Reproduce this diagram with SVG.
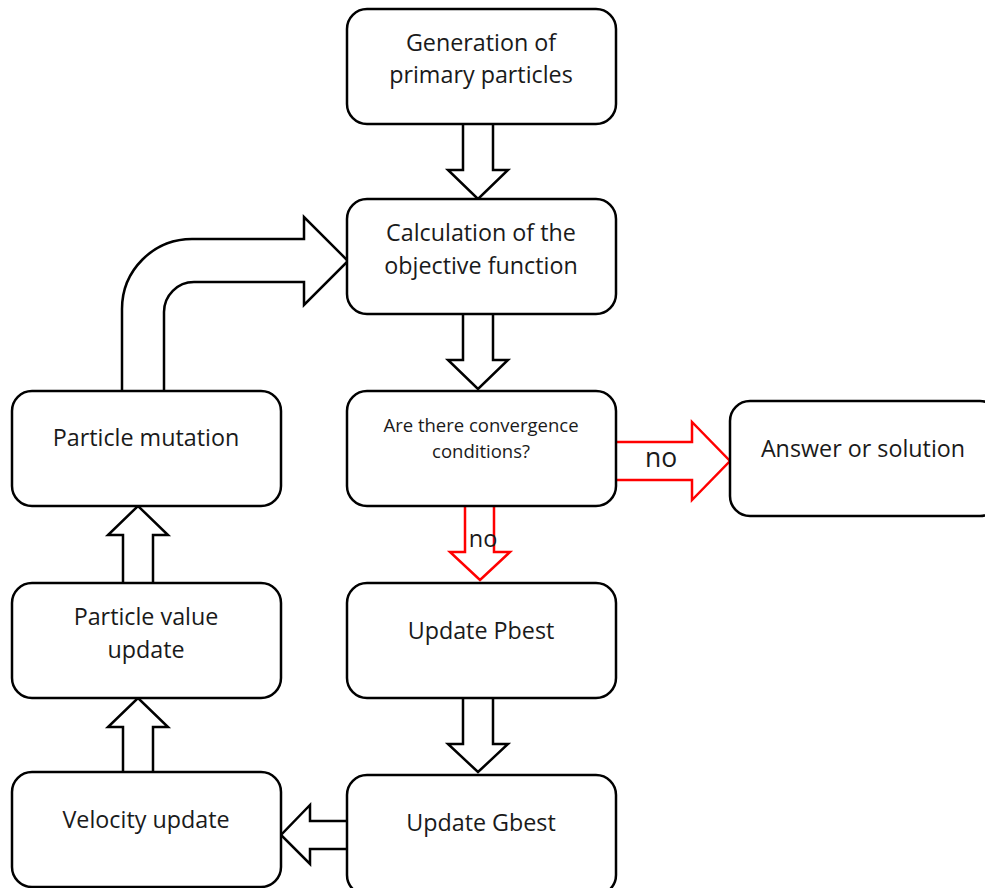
<svg xmlns="http://www.w3.org/2000/svg" width="985" height="888" viewBox="0 0 985 888">
<style>
.box{fill:#fff;stroke:#000;stroke-width:2.5}
.arr{fill:#fff;stroke:#000;stroke-width:2.5;stroke-linejoin:miter}
.red{fill:#fff;stroke:#ff0000;stroke-width:2.5;stroke-linejoin:miter}
text{font-family:"Open Sans","DejaVu Sans",sans-serif;font-size:23.3px;fill:#1a1a1a;text-anchor:middle}
.sm{font-size:18.5px}
.no{font-size:26.5px}
.no2{font-size:23.5px}
</style>
<rect width="985" height="888" fill="#fff"/>
<g id="connectors">
<path class="arr" d="M463,124 V170 H448 L478,199 L508,170 H493 V124"/>
<path class="arr" d="M463,314 V360 H448 L478,389 L508,360 H493 V314"/>
<path class="arr" d="M463,698 V744 H448 L478,772 L508,744 H493 V698"/>
<path class="arr" d="M348,821 H310 V805 L281,835 L310,864 V849 H348"/>
<path class="arr" d="M123,772 V727 H108 L138,698 L168,727 H153 V772"/>
<path class="arr" d="M123,583 V535 H108 L138,506 L168,535 H153 V583"/>
<path class="arr" d="M122,391 V309 A70,70 0 0 1 192,239 H304 V217 L348,261 L304,305 V282 H194 A30,30 0 0 0 164,312 V391"/>
<path class="red" d="M465,506 V552 H450 L480,580 L510,552 H494 V506"/>
<path class="red" d="M616,442 H692 V422 L730,461 L692,500 V480 H616"/>
<text class="no" x="661" y="467">no</text>
<text class="no2" x="483" y="547">no</text>
</g>
<g id="n1"><rect class="box" x="347" y="9" width="269" height="115" rx="20"/><text x="481" y="51">Generation of</text><text x="481" y="83">primary particles</text></g>
<g id="n2"><rect class="box" x="347" y="199" width="269" height="115" rx="20"/><text x="481" y="241">Calculation of the</text><text x="481" y="274">objective function</text></g>
<g id="n3"><rect class="box" x="347" y="391" width="269" height="115" rx="20"/><text class="sm" x="481" y="432">Are there convergence</text><text class="sm" x="481" y="458">conditions?</text></g>
<g id="n4"><rect class="box" x="730" y="401" width="270" height="115" rx="20"/><text x="863" y="457">Answer or solution</text></g>
<g id="n5"><rect class="box" x="347" y="583" width="269" height="115" rx="20"/><text x="481" y="639">Update Pbest</text></g>
<g id="n6"><rect class="box" x="347" y="775" width="269" height="120" rx="20"/><text x="481" y="831">Update Gbest</text></g>
<g id="n7"><rect class="box" x="12" y="391" width="269" height="115" rx="20"/><text x="146" y="446">Particle mutation</text></g>
<g id="n8"><rect class="box" x="12" y="583" width="269" height="115" rx="20"/><text x="146" y="625">Particle value</text><text x="146" y="658">update</text></g>
<g id="n9"><rect class="box" x="12" y="772" width="269" height="115" rx="20"/><text x="146" y="828">Velocity update</text></g>
</svg>
